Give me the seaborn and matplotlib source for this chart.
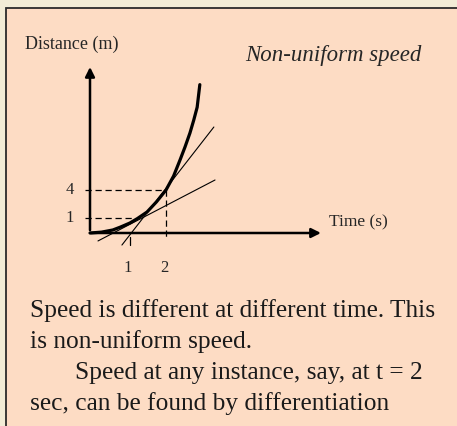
import matplotlib
matplotlib.use("Agg")
import matplotlib.pyplot as plt
import seaborn as sns
import pandas as pd
from matplotlib.patches import Rectangle

# distance-time curve (schematic units)
t_curve = [0.0, 0.3, 0.6, 0.8, 1.05, 1.25, 1.5, 1.75, 2.0, 2.2, 2.37, 2.5, 2.63, 2.73, 2.82, 2.89]
d_curve = [0.0, 0.08, 0.28, 0.55, 0.93, 1.35, 1.95, 2.9, 4.0, 5.3, 6.8, 8.0, 9.3, 10.5, 11.7, 13.8]

# tangent lines (at t = 2 and at t = 1)
tan_steep_t = [0.84, 3.26]
tan_steep_d = [-1.12, 9.86]
tan_shallow_t = [0.21, 3.29]
tan_shallow_d = [-0.74, 4.93]

# marked levels and times
level_d = [1.4, 4.0]
level_end_t = [1.15, 2.0]
level_labels = ["1", "4"]
mark_t = [1.05, 2.0]
mark_labels = ["1", "2"]

body_lines = [
    "Speed is different at different time. This",
    "is non-uniform speed.",
    "Speed at any instance, say, at t = 2",
    "sec, can be found by differentiation",
]

sns.set_style("white")
plt.rcParams["font.family"] = ["Liberation Serif", "DejaVu Serif"]

W, H = 457, 426
fig = plt.figure(figsize=(W / 100, H / 100), dpi=100)
fig.patch.set_facecolor("#F2ECD6")

# peach panel with dark left/top border
fig.patches.append(Rectangle((5.5 / W, -0.1), 1.2, 1.1 - 8 / H, transform=fig.transFigure,
                             facecolor="#FDDCC4", edgecolor="#2b2b2b", linewidth=1.3,
                             zorder=-5))

ax = fig.add_axes([0, 0, 1, 1])
ax.set_facecolor("none")
ax.axis("off")
# pixel mapping: x = 90 + 38*t, y = 233 - 10.75*d
ax.set_xlim(-90 / 38, (W - 90) / 38)
ax.set_ylim((233 - H) / 10.75, 233 / 10.75)

curve = pd.DataFrame({"t": t_curve, "d": d_curve})
sns.lineplot(data=curve, x="t", y="d", ax=ax, color="black", linewidth=2.3, sort=False)
sns.lineplot(x=tan_steep_t, y=tan_steep_d, ax=ax, color="black", linewidth=0.8)
sns.lineplot(x=tan_shallow_t, y=tan_shallow_d, ax=ax, color="black", linewidth=0.8)

# dashed guides
for d, te, lab in zip(level_d, level_end_t, level_labels):
    ax.plot([-0.13, te], [d, d], color="black", lw=0.9, ls=(0, (5, 3)))
    ax.text(-0.53, d, lab, ha="center", va="center", fontsize=12)
ax.plot([mark_t[1], mark_t[1]], [level_d[1], -0.45], color="black", lw=0.9, ls=(0, (5, 3)))
ax.plot([mark_t[0], mark_t[0]], [-0.35, -1.12], color="black", lw=0.9)
for t, lab in zip(mark_t, mark_labels):
    ax.text(t - 0.05, -3.3, lab, ha="center", va="center", fontsize=12)

# axes arrows
ax.annotate("", xy=(0, 15.7), xytext=(0, 0),
            arrowprops=dict(arrowstyle="-|>", color="black", lw=1.8, mutation_scale=14))
ax.annotate("", xy=(6.15, 0), xytext=(-0.05, 0),
            arrowprops=dict(arrowstyle="-|>", color="black", lw=1.8, mutation_scale=14))

ax.text(6.3, 1.0, "Time (s)", ha="left", va="center", fontsize=12.5)
fig.text(25 / W, 1 - 44 / H, "Distance (m)", ha="left", va="center", fontsize=13)
fig.text(333 / W, 1 - 55 / H, "Non-uniform speed", ha="center", va="center",
         fontsize=16.5, style="italic")

ys = [311, 342, 373, 404]
xs = [30, 30, 75, 30]
for line, x, y in zip(body_lines, xs, ys):
    fig.text(x / W, 1 - y / H, line, ha="left", va="center", fontsize=18.3, color="#1a1a1a")

fig.savefig("out.png", dpi=100, facecolor=fig.get_facecolor())
